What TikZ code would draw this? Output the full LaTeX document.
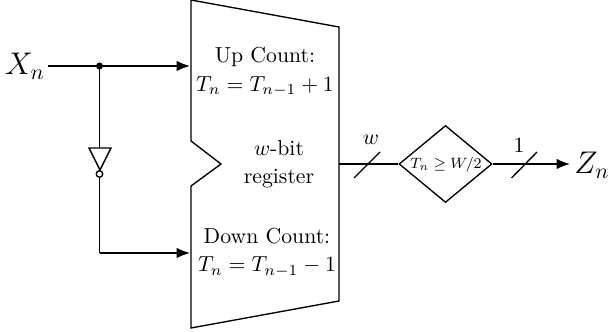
\documentclass[tikz,border=0pt]{standalone}
\usepackage{amsmath}
\usetikzlibrary{arrows.meta,shapes.geometric}
\tikzset{
  wire/.style={line width=0.62pt},
  arrowwire/.style={wire,-{Latex[length=6.2pt,width=4.8pt]}},
  txt/.style={inner sep=0pt,align=center,font=\normalsize},
  bigtxt/.style={inner sep=0pt,font=\Large},
  tri/.style={wire,line join=miter}
}
\begin{document}
\begin{tikzpicture}[x=0.46pt,y=-0.46pt]
\useasboundingbox (0,0) rectangle (608,332);
\coordinate (upin) at (190,66);
\coordinate (downin) at (190,253);
\coordinate (regout) at (339,164);
\coordinate (junc) at (99.5,66);
\coordinate (corner) at (99.5,253);
\draw[wire,line join=miter] (191,0) -- (339,27) -- (339,301) -- (191,328) -- (191,186) -- (221,164) -- (191,141) -- cycle;
\node[txt] (up) at (265,72) {Up Count:\\[1pt]$T_n=T_{n-1}+1$};
\node[txt] (mid) at (279,164) {$w$-bit\\[1pt]register};
\node[txt] (down) at (267,252.5) {Down Count:\\[1pt]$T_n=T_{n-1}-1$};
\node[bigtxt] (xn) at (25,66) {$X_n$};
\node[bigtxt] (zn) at (592,165) {$Z_n$};
\node[diamond,draw,wire,minimum width=93*0.46pt,minimum height=77*0.46pt,inner sep=0pt,aspect=1.2] (cmp) at (445.5,164) {};
\node[inner sep=0pt,font=\footnotesize,transform shape=false] (cmplabel) at (446,165) {\scalebox{0.86}{$T_n\geq W/2$}};
\node[inner sep=0pt,font=\normalsize] (wl) at (371,140) {$w$};
\node[inner sep=0pt,font=\normalsize] (one) at (519,145) {$1$};
\draw[wire] (48,66) -- (junc);
\draw[arrowwire] (junc) -- (upin);
\fill (junc) circle (3.5);
\draw[tri] (89,148) -- (111,148) -- (100,170) -- cycle;
\coordinate (invtop) at (99.5,148);
\node[circle,draw,wire,fill=white,minimum size=6.5*0.46pt,inner sep=0pt] (bub) at (99.5,174) {};
\draw[wire] (junc) -- (invtop);
\draw[wire] (bub) -- (corner);
\draw[arrowwire] (corner) -- (downin);
\draw[wire] (regout) -- (cmp.west);
\draw[arrowwire] (cmp.east) -- (570,164);
\draw[wire] (354,178) -- (380,152);
\draw[wire] (511.5,178) -- (537,152);
\end{tikzpicture}
\end{document}
